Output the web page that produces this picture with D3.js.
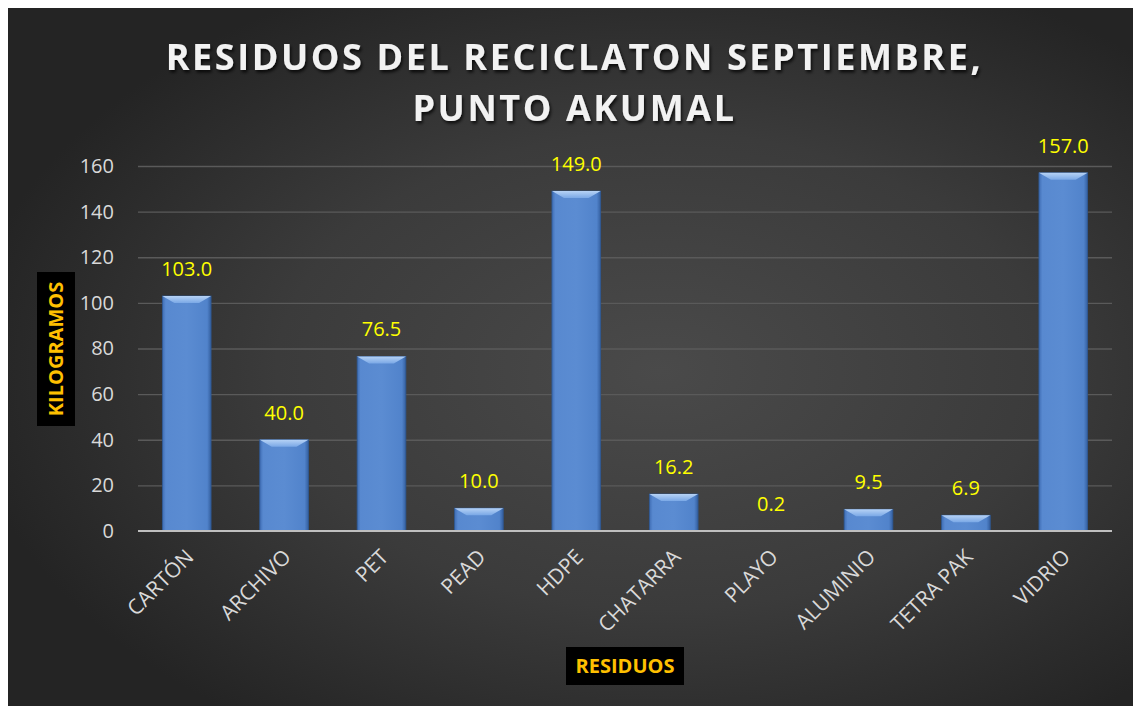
<!DOCTYPE html>
<html>
<head>
<meta charset="utf-8">
<script src="https://cdn.jsdelivr.net/npm/d3@7"></script>
<style>
  html, body { margin: 0; padding: 0; background: #fff; }
  svg { display: block; }
  text { font-family: "Open Sans", "DejaVu Sans", sans-serif; }
</style>
</head>
<body>
<svg id="chart" width="1133" height="706"></svg>
<script>
const categories = ["CARTÓN", "ARCHIVO", "PET", "PEAD", "HDPE", "CHATARRA", "PLAYO", "ALUMINIO", "TETRA PAK", "VIDRIO"];
const kilos = [103.0, 40.0, 76.5, 10.0, 149.0, 16.2, 0.2, 9.5, 6.9, 157.0];
const yTicks = [0, 20, 40, 60, 80, 100, 120, 140, 160];
const titleLines = ["RESIDUOS DEL RECICLATON SEPTIEMBRE,", "PUNTO AKUMAL"];

const W = 1133, H = 706;
const svg = d3.select("#chart");
const defs = svg.append("defs");

// background radial gradient
const bg = defs.append("radialGradient").attr("id", "bg")
  .attr("cx", "58%").attr("cy", "52%").attr("r", "62%");
bg.append("stop").attr("offset", "0%").attr("stop-color", "#4a4a4a");
bg.append("stop").attr("offset", "55%").attr("stop-color", "#3b3b3b");
bg.append("stop").attr("offset", "100%").attr("stop-color", "#242424");

// bar body gradient
const bodyG = defs.append("linearGradient").attr("id", "barbody")
  .attr("x1", "0%").attr("y1", "0%").attr("x2", "100%").attr("y2", "0%");
bodyG.append("stop").attr("offset", "0%").attr("stop-color", "#3f6db4");
bodyG.append("stop").attr("offset", "7%").attr("stop-color", "#5889d0");
bodyG.append("stop").attr("offset", "50%").attr("stop-color", "#5b8cd2");
bodyG.append("stop").attr("offset", "92%").attr("stop-color", "#5183cb");
bodyG.append("stop").attr("offset", "100%").attr("stop-color", "#345f9f");

const bevelG = defs.append("linearGradient").attr("id", "bevel")
  .attr("x1", "0%").attr("y1", "0%").attr("x2", "0%").attr("y2", "100%");
bevelG.append("stop").attr("offset", "0%").attr("stop-color", "#b6d2f5");
bevelG.append("stop").attr("offset", "100%").attr("stop-color", "#7aa8e6");

const shadow = defs.append("filter").attr("id", "tshadow")
  .attr("x", "-10%").attr("y", "-30%").attr("width", "120%").attr("height", "160%");
shadow.append("feDropShadow").attr("dx", 1.5).attr("dy", 2.5).attr("stdDeviation", 1.6)
  .attr("flood-color", "#000").attr("flood-opacity", 0.75);

svg.append("rect").attr("x", 8).attr("y", 8).attr("width", W - 8).attr("height", H - 8)
  .attr("fill", "url(#bg)");

// scales
const plot = { left: 138, right: 1112, top: 166, bottom: 531 };
const x = d3.scaleBand().domain(categories).range([plot.left, plot.right]).paddingInner(0.5).paddingOuter(0.25);
const y = d3.scaleLinear().domain([0, 160]).range([plot.bottom, plot.top]);

// gridlines
svg.append("g")
  .attr("transform", `translate(${plot.left},0)`)
  .call(d3.axisLeft(y).tickValues(yTicks.filter(d => d > 0)).tickSize(-(plot.right - plot.left)).tickFormat(""))
  .call(g => g.select(".domain").remove())
  .call(g => g.selectAll("line").attr("stroke", "#5a5a5a").attr("stroke-width", 1.3));

// y axis labels
svg.append("g")
  .attr("transform", `translate(${plot.left},0)`)
  .call(d3.axisLeft(y).tickValues(yTicks).tickSize(0).tickPadding(24))
  .call(g => g.select(".domain").remove())
  .call(g => g.selectAll("text").attr("fill", "#d9d9d9").attr("font-size", 20)
    .attr("font-family", "'Open Sans', sans-serif"));

// bars
const bars = svg.append("g").selectAll("g").data(categories).join("g");
const bw = x.bandwidth();
bars.append("rect")
  .attr("x", d => x(d))
  .attr("y", (d, i) => y(kilos[i]))
  .attr("width", bw)
  .attr("height", (d, i) => y(0) - y(kilos[i]))
  .attr("fill", "url(#barbody)")
  .attr("stroke", "#2f5a96").attr("stroke-width", 0.8);
bars.append("path")
  .attr("d", (d, i) => {
    const x0 = x(d), x1 = x0 + bw, t = y(kilos[i]);
    const h = Math.min(7, y(0) - t);
    const inset = Math.min(12, h * 1.8);
    return `M${x0},${t}L${x1},${t}L${x1 - inset},${t + h}L${x0 + inset},${t + h}Z`;
  })
  .attr("fill", "url(#bevel)");

// data labels
svg.append("g").selectAll("text").data(categories).join("text")
  .attr("x", d => x(d) + bw / 2)
  .attr("y", (d, i) => y(kilos[i]) - 20)
  .attr("text-anchor", "middle")
  .attr("fill", "#ffff00")
  .attr("font-size", 20)
  .text((d, i) => kilos[i].toFixed(1));

// x axis line
svg.append("line")
  .attr("x1", plot.left).attr("x2", plot.right)
  .attr("y1", plot.bottom).attr("y2", plot.bottom)
  .attr("stroke", "#bfbfbf").attr("stroke-width", 2);

// x labels rotated
svg.append("g").selectAll("text").data(categories).join("text")
  .attr("transform", d => `translate(${x(d) + bw / 2 + 3},${plot.bottom + 22}) rotate(-45)`)
  .attr("text-anchor", "end")
  .attr("dy", "0.35em")
  .attr("fill", "#d9d9d9")
  .attr("font-size", 21)
  .text(d => d);

// title
const title = svg.append("g").attr("filter", "url(#tshadow)");
titleLines.forEach((t, i) => {
  title.append("text")
    .attr("x", (W + 8) / 2 + 4)
    .attr("y", 70 + i * 51)
    .attr("text-anchor", "middle")
    .attr("fill", "#f2f2f2")
    .attr("font-size", 36)
    .attr("font-weight", 700)
    .attr("letter-spacing", 2.6)
    .text(t);
});

// y axis title
svg.append("rect").attr("x", 37).attr("y", 272).attr("width", 38).attr("height", 154).attr("fill", "#000");
svg.append("text")
  .attr("transform", `translate(56,349) rotate(-90)`)
  .attr("text-anchor", "middle").attr("dy", "0.35em")
  .attr("fill", "#ffc000").attr("font-size", 20).attr("font-weight", 700)
  .text("KILOGRAMOS");

// x axis title
svg.append("rect").attr("x", 566).attr("y", 647).attr("width", 118).attr("height", 38).attr("fill", "#000");
svg.append("text")
  .attr("x", 625).attr("y", 666)
  .attr("text-anchor", "middle").attr("dy", "0.35em")
  .attr("fill", "#ffc000").attr("font-size", 20).attr("font-weight", 700)
  .text("RESIDUOS");
</script>
</body>
</html>
